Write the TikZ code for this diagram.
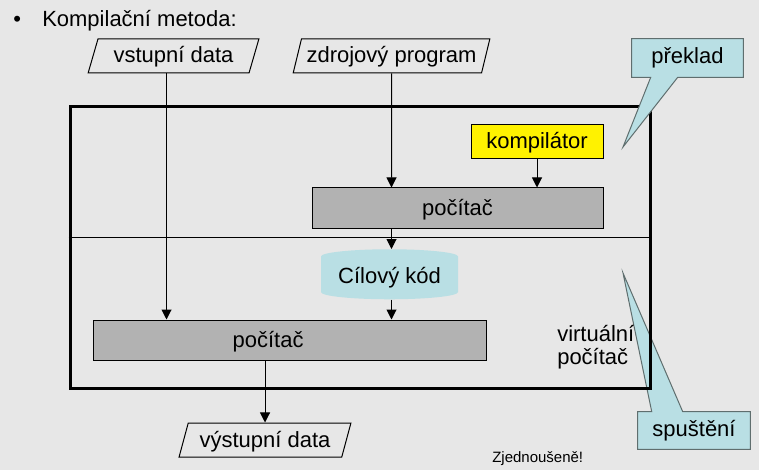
\documentclass[tikz,border=0pt]{standalone}
\usepackage{fontspec}
\setmainfont{Liberation Sans}
\usepackage{xcolor}
\usetikzlibrary{arrows.meta, positioning, shapes.geometric, calc, backgrounds}

\definecolor{slidebg}{RGB}{231,231,231}
\definecolor{pcgray}{RGB}{178,178,178}
\definecolor{codeblue}{RGB}{185,223,228}
\definecolor{noteedge}{RGB}{95,110,110}

\pgfdeclarelayer{paper}
\pgfsetlayers{paper,background,main}

\begin{document}
\begin{tikzpicture}[x=0.75pt, y=-0.75pt,
    every node/.style={font=\fontsize{16.5}{17}\selectfont},
    box/.style={rectangle, draw, line width=0.75pt, inner sep=0pt,
      text height=12.5pt, text depth=2pt},
    pc/.style={box, fill=pcgray, minimum height=30pt},
    data/.style={trapezium, trapezium left angle=68, trapezium right angle=112,
      trapezium stretches=true, draw, line width=0.75pt,
      minimum height=25.5pt, inner sep=0pt, text height=12.5pt, text depth=2pt},
    note/.style={rectangle, inner sep=0pt},
    notebg/.style={fill=codeblue, draw=noteedge, line width=0.75pt},
    arrow/.style={line width=0.75pt, -{Triangle[length=7.5pt, width=7.5pt]}}
]
\begin{pgfonlayer}{paper}
  \fill[slidebg] (0,0) rectangle (759,470);
\end{pgfonlayer}

\node[anchor=base west, inner sep=0pt] (bullet) at (13,27) {•};
\node[anchor=base west, inner sep=0pt] (title) at (42,27) {Kompilační metoda:};

% vstupy
\node[data, minimum width=128.25pt] (vin) at (173.5,56) {vstupní data};
\node[data, minimum width=147.75pt] (src) at (391.5,56) {zdrojový program};

% preklad
\node[box, fill=yellow, minimum width=99pt, minimum height=25.5pt] (comp) at (537,142) {kompilátor};
\node[pc, minimum width=218.25pt] (pc1) at (457.5,208) {počítač};
\node[cylinder, shape border rotate=90, aspect=0.14, fill=codeblue,
      minimum width=102.75pt, minimum height=37.5pt, inner sep=0pt] (code) at (389.5,278) {Cílový kód};

% spusteni
\node[pc, minimum width=294.75pt, label={[xshift=-16.1pt, text height=12.5pt, text depth=2pt]center:počítač}] (pc2) at (289.5,340) {};
\node[data, minimum width=129pt] (vout) at (265,440) {výstupní data};
\node[anchor=west, align=left, inner sep=0pt] (virt) at (557,347) {virtuální\\počítač};

\node[note, minimum width=83.25pt, minimum height=28.5pt] (tr) at (687.5,58) {překlad};
\node[note, minimum width=84pt, minimum height=27.75pt] (run) at (694,430.5) {spuštění};
\coordinate (trtip) at (623,147);
\coordinate (runtip) at (623,273);

\node[anchor=base west, inner sep=0pt, font=\fontsize{11.25}{13}\selectfont] (note) at (492,462) {Zjednoušeně!};

\draw[arrow] ([xshift=-5.25pt]vin.south) -- ([xshift=-5.25pt]vin.south |- pc2.north);
\draw[arrow] (src) -- (src |- pc1.north);
\draw[arrow] (comp) -- (comp |- pc1.north);
\draw[arrow] (src |- pc1.south) -- (src |- code.north);
\draw[arrow] (src |- code.south) -- (src |- pc2.north);
\draw[arrow] (pc2.south -| vout.north) -- (vout.north);

\begin{scope}[on background layer]
  \draw[notebg] (run.south west) -- (run.south east) -- (run.north east)
    -- ($(run.north west)+(45,0)$) -- (runtip) -- ($(run.north west)+(14,0)$)
    -- (run.north west) -- cycle;
  \node[draw, line width=2.25pt, minimum width=435pt, minimum height=210.75pt] (vm) at (360,247.5) {};
  \coordinate (split) at (0,237);
  \draw[line width=0.75pt] (vm.west |- split) -- (vm.east |- split);
  \draw[notebg] (tr.north west) -- (tr.north east) -- (tr.south east)
    -- ($(tr.south west)+(46,0)$) -- (trtip) -- ($(tr.south west)+(19,0)$)
    -- (tr.south west) -- cycle;
\end{scope}
\end{tikzpicture}
\end{document}
